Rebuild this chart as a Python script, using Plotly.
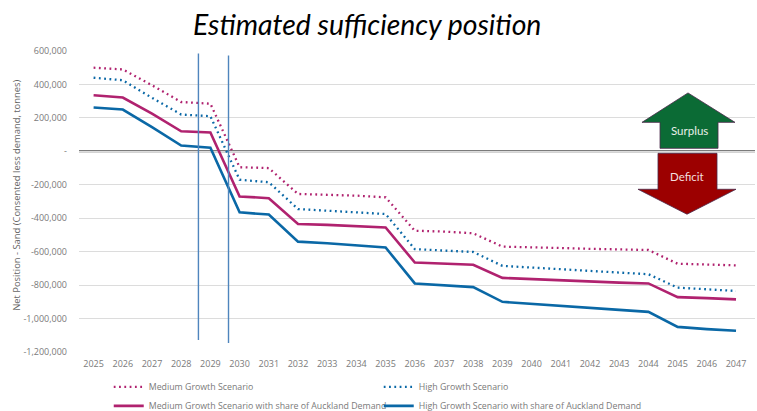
import plotly.graph_objects as go

years = [str(y) for y in range(2025, 2048)]

medium_growth = [500000, 490000, 395000, 295000, 285000, -95000, -100000, -255000, -260000, -265000, -275000, -475000,
                 -480000, -490000, -570000, -572000, -578000, -583000, -587000, -590000, -672000, -675000, -682000]
high_growth = [440000, 425000, 320000, 220000, 210000, -170000, -185000, -345000, -355000, -365000, -375000, -585000,
               -592000, -602000, -685000, -695000, -705000, -715000, -725000, -735000, -815000, -825000, -835000]
medium_auckland = [335000, 322000, 225000, 120000, 113000, -270000, -280000, -435000, -440000, -448000, -455000, -665000,
                   -670000, -678000, -757000, -765000, -772000, -778000, -785000, -790000, -872000, -878000, -885000]
high_auckland = [262000, 250000, 145000, 35000, 22000, -365000, -378000, -540000, -550000, -563000, -575000, -790000,
                 -803000, -812000, -900000, -913000, -923000, -937000, -948000, -960000, -1050000, -1063000, -1073000]

y_ticks = [600000, 400000, 200000, 0, -200000, -400000, -600000, -800000, -1000000, -1200000]
y_labels = ["600,000", "400,000", "200,000", "-", "-200,000", "-400,000", "-600,000", "-800,000", "-1,000,000", "-1,200,000"]

MAGENTA = "#b0226f"
BLUE = "#0a68a6"
GREY = "#7a7a7a"
FONT = "Open Sans"
TITLE_FONT = "Lato"
W, H = 757, 411


def px(x, y):
    """Convert window pixels to paper coordinates."""
    left, right, top, bottom = 79, 755, 50.5, 352
    return (x - left) / (right - left), (bottom - y) / (bottom - top)


def arrow_path(points):
    pts = [px(*p) for p in points]
    return "M " + " L ".join(f"{a:.4f},{b:.4f}" for a, b in pts) + " Z"


def label(text, x, y, **kwargs):
    ox, oy = px(x, y)
    return dict(text=text, x=ox, y=oy, xref="paper", yref="paper", showarrow=False,
                xanchor="center", yanchor="middle", **kwargs)


fig = go.Figure()
series = [
    ("Medium Growth Scenario", medium_growth, MAGENTA, "1.8px,3.5px", 2.3),
    ("High Growth Scenario", high_growth, BLUE, "1.8px,3.5px", 2.3),
    ("Medium Growth Scenario with share of Auckland Demand", medium_auckland, MAGENTA, "solid", 2.6),
    ("High Growth Scenario with share of Auckland Demand", high_auckland, BLUE, "solid", 2.6),
]
for name, values, color, dash, width in series:
    fig.add_trace(go.Scatter(x=years, y=values, name=name, mode="lines",
                             line=dict(color=color, dash=dash, width=width)))

shapes = [
    # horizontal zero reference
    dict(type="line", xref="paper", yref="y", x0=0, x1=1, y0=0, y1=0,
         line=dict(color="#4f4f4f", width=2), layer="between"),
    # period markers
    dict(type="line", xref="x", yref="y", x0=3.59, x1=3.59, y0=585000, y1=-1128000,
         line=dict(color="#4f85bd", width=1.4)),
    dict(type="line", xref="x", yref="y", x0=4.62, x1=4.62, y0=573000, y1=-1146000,
         line=dict(color="#4f85bd", width=1.4)),
    # surplus / deficit arrows
    dict(type="path", xref="paper", yref="paper", fillcolor="#0b6b35",
         line=dict(color="#4a2a4a", width=0.8),
         path=arrow_path([(688, 92.5), (735, 122), (718, 122), (718, 148), (660, 148), (660, 122), (642, 122)])),
    dict(type="path", xref="paper", yref="paper", fillcolor="#9c0000",
         line=dict(color="#4a2a4a", width=0.8),
         path=arrow_path([(658, 153), (717, 153), (717, 189), (736, 189), (687, 214), (638, 189), (658, 189)])),
]

annotations = [
    label("Surplus", 689, 130, font=dict(family=TITLE_FONT, size=11.5, color="#e8efe8")),
    label("Deficit", 687, 176, font=dict(family=TITLE_FONT, size=11.5, color="#f3dfdf")),
    label("<i>Estimated sufficiency position</i>", 367, 23.5, font=dict(family=TITLE_FONT, size=28.4, color="#000000")),
    label("Net Position - Sand (Consented less demand, tonnes)", 17, 195.5, textangle=-90,
          font=dict(family=FONT, size=9.4, color="#666666")),
]

fig.update_layout(
    width=W, height=H, autosize=False,
    margin=dict(l=79, r=2, t=50.5, b=59, pad=0),
    paper_bgcolor="white", plot_bgcolor="white",
    font=dict(family=FONT, size=9, color=GREY),
    shapes=shapes, annotations=annotations,
    legend=dict(orientation="h", x=0.044, xref="paper", y=0.094, yref="container",
                xanchor="left", yanchor="top",
                entrywidth=225, entrywidthmode="pixels", itemwidth=30,
                font=dict(family=FONT, size=8.8, color=GREY),
                bgcolor="rgba(0,0,0,0)"),
    xaxis=dict(type="category", range=[-0.5, 22.65], showgrid=False, zeroline=False, showline=False,
               automargin=False, ticks="", tickfont=dict(family=FONT, size=9, color=GREY), tickangle=0,
               ticklabelstandoff=5),
    yaxis=dict(range=[-1200000, 600000], tickvals=y_ticks, ticktext=y_labels, showgrid=True, automargin=False,
               gridcolor="#dcdcdc", gridwidth=1, zeroline=False, showline=False, ticks="",
               tickfont=dict(family=FONT, size=9, color=GREY), ticklabelstandoff=11),
)

fig.write_html("out.html", config=dict(displayModeBar=False))
